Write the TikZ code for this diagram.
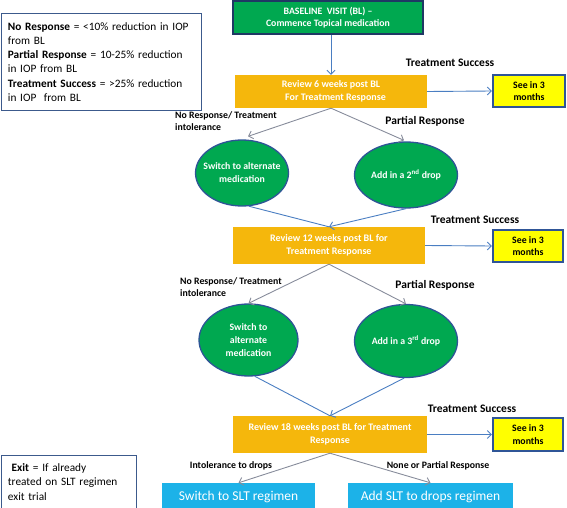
\documentclass[tikz,border=0pt]{standalone}
\usepackage{fontspec}
\setmainfont{Carlito}
\usetikzlibrary{arrows.meta,shapes.geometric,calc}
\definecolor{bgreen}{RGB}{0,168,80}
\definecolor{navy}{RGB}{31,56,100}
\definecolor{rorange}{RGB}{245,183,12}
\definecolor{syellow}{RGB}{255,255,0}
\definecolor{sborder}{RGB}{47,85,151}
\definecolor{ecyan}{RGB}{28,178,232}
\definecolor{ablue}{RGB}{74,126,194}
\definecolor{agrey}{RGB}{135,140,155}
\definecolor{eborder}{RGB}{46,84,150}
\definecolor{lborder}{RGB}{60,90,140}
\tikzset{
  basebox/.style={draw=navy, line width=1.6pt, fill=bgreen, text=white, font=\fontsize{9.8}{12}\selectfont\bfseries, align=center, inner sep=0pt},
  reviewbox/.style={fill=rorange, text=white, font=\fontsize{10}{13}\selectfont\bfseries, align=center, inner sep=0pt},
  seebox/.style={draw=sborder, line width=2.2pt, fill=syellow, text=black, font=\fontsize{9.8}{12.5}\selectfont\bfseries, align=center, inner sep=0pt},
  oval/.style={ellipse, draw=eborder, line width=1.3pt, fill=bgreen, text=white, font=\fontsize{9.8}{13}\selectfont\bfseries, align=center, inner xsep=-30pt, inner ysep=-20pt},
  slt/.style={fill=ecyan, text=white, font=\fontsize{13.5}{15}\selectfont, inner sep=0pt},
  legendbox/.style={draw=lborder, line width=0.9pt, fill=white, align=left, inner xsep=7pt, inner ysep=0pt, anchor=north west, font=\fontsize{11.3}{14.2}\selectfont},
  biglbl/.style={font=\fontsize{11.5}{13}\selectfont\bfseries, inner sep=0pt},
  smalllbl/.style={font=\fontsize{9.8}{12}\selectfont\bfseries, inner sep=0pt},
  bluearrow/.style={draw=ablue, line width=0.9pt, -{Straight Barb[length=4pt,width=8pt]}},
  greyarrow/.style={draw=agrey, line width=0.9pt, -{Straight Barb[length=4pt,width=8pt]}},
  blueline/.style={draw=ablue, line width=0.9pt}
}
\begin{document}
\begin{tikzpicture}[x=1pt,y=-1pt]
\useasboundingbox (0,0) rectangle (567,508);
% legend boxes
\node[legendbox, minimum width=200, minimum height=97, text width=186] (legend) at (0.5,13)
 {\textbf{No Response} = <10\% reduction in IOP\\from BL\\\textbf{Partial Response} = 10-25\% reduction\\in IOP from BL\\\textbf{Treatment Success} = >25\% reduction\\in IOP\ \ from BL};
\node[legendbox, minimum width=135, minimum height=53, text width=121] (exit) at (0.5,455)
 {\ \textbf{Exit} = If already\\treated on SLT regimen\\exit trial};
% main boxes
\node[basebox, minimum width=190, minimum height=33] (base) at (328,17.5) {BASELINE\ \ VISIT (BL) --\\Commence Topical medication};
\node[reviewbox, minimum width=192, minimum height=33] (r1) at (331,91.5) {Review 6 weeks post BL\\\ \ \ \ For Treatment Response};
\node[seebox, minimum width=72, minimum height=32] (s1) at (529,91) {See in 3\\months};
\node[oval, minimum width=93, minimum height=66] (e1) at (242,173) {Switch to alternate\\medication};
\node[oval, minimum width=103, minimum height=66] (e2) at (406,175) {Add in a 2\textsuperscript{nd} drop};
\node[reviewbox, minimum width=192, minimum height=37] (r2) at (329,245.5) {Review 12 weeks post BL for\\Treatment Response};
\node[seebox, minimum width=70, minimum height=32] (s2) at (528,246) {See in 3\\months};
\node[oval, minimum width=99, minimum height=72] (e3) at (248.5,340) {Switch to\\alternate\\medication};
\node[oval, minimum width=103, minimum height=73] (e4) at (406,341) {Add in a 3\textsuperscript{rd} drop};
\node[reviewbox, minimum width=194, minimum height=37] (r3) at (330,434.5) {Review 18 weeks post BL for Treatment\\Response};
\node[seebox, minimum width=70, minimum height=33] (s3) at (528,434.5) {See in 3\\months};
\node[slt, minimum width=153, minimum height=27] (sw) at (238.5,496.5) {Switch to SLT regimen};
\node[slt, minimum width=165, minimum height=27] (add) at (430.5,496.5) {Add SLT to drops regimen};
% labels
\node[biglbl] (ts1) at (450,63) {Treatment Success};
\node[biglbl] (pr1) at (425,121) {Partial Response};
\node[smalllbl, anchor=north west, align=left] (nr1) at (175,111) {No Response/ Treatment\\intolerance};
\node[biglbl] (ts2) at (475,220) {Treatment Success};
\node[smalllbl, anchor=north west, align=left] (nr2) at (180,277) {No Response/ Treatment\\intolerance};
\node[biglbl] (pr2) at (435,285) {Partial Response};
\node[biglbl] (ts3) at (472,409) {Treatment Success};
\node[smalllbl] (itd) at (231,466) {Intolerance to drops};
\node[smalllbl] (nop) at (438,466) {None or Partial Response};
% connectors
\draw[bluearrow] (base.south -| r1.north) -- (r1.north);
\draw[bluearrow] (r1.east) -- (s1.west);
\draw[greyarrow] (r1.south) -- ($(e1.north)+(6,-3)$);
\draw[greyarrow] (r1.south) -- ($(e2.north)+(-2,-1)$);
\draw[blueline] (e1.-78) -- (r2.north);
\draw[bluearrow] (e2.south) -- (r2.north);
\draw[bluearrow] (r2.east) -- (s2.west);
\draw[greyarrow] (r2.south) -- (e3.north);
\draw[greyarrow] (r2.south) -- (e4.north);
\draw[blueline] (e3.-80) -- (r3.north);
\draw[bluearrow] (e4.-93) -- (r3.north);
\draw[bluearrow] (r3.east) -- (s3.west);
\draw[greyarrow] (r3.south) -- (sw.north);
\draw[greyarrow] (r3.south) -- (add.north);
\end{tikzpicture}
\end{document}
